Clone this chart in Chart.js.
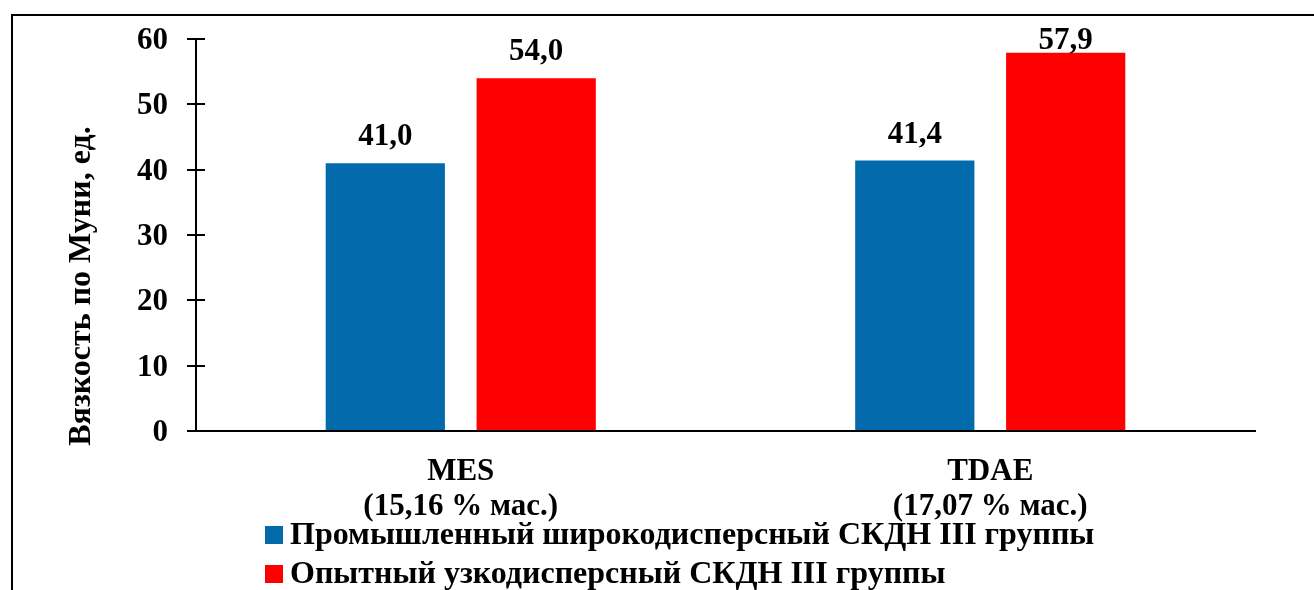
<!DOCTYPE html>
<html>
<head>
<meta charset="utf-8">
<script src="https://cdn.jsdelivr.net/npm/chart.js@4"></script>
<style>
  html, body { margin: 0; padding: 0; background: #fff; overflow: hidden; }
  #wrap { position: relative; width: 1314px; height: 590px; }
  #frame { position: absolute; left: 11px; top: 14px; width: 1400px; height: 700px;
           border-left: 2px solid #000; border-top: 2px solid #000; pointer-events: none; }
  canvas { position: absolute; left: 0; top: 0; }
</style>
</head>
<body>
<div id="wrap">
  <canvas id="chart" width="1314" height="590"></canvas>
  <div id="frame"></div>
</div>
<script>
// Plasticizer types with their content
const categories = [
  ['MES', '(15,16 % мас.)'],
  ['TDAE', '(17,07 % мас.)']
];
const seriesNames = [
  'Промышленный широкодисперсный СКДН III группы',
  'Опытный узкодисперсный СКДН III группы'
];
const industrialValues = [41.0, 41.4];
const experimentalValues = [54.0, 57.9];
const yTicks = [0, 10, 20, 30, 40, 50, 60];
const yTitle = 'Вязкость по Муни, ед.';

const FONT = "'Liberation Serif', 'Times New Roman', serif";
const LABEL_FONT = 'bold 31px ' + FONT;
const BIG_FONT = 'bold 32px ' + FONT;

// Crossing tick marks on the value axis (inner half)
const innerTicks = {
  id: 'innerTicks',
  afterDraw(chart) {
    const y = chart.scales.y, ctx = chart.ctx, left = chart.chartArea.left;
    ctx.save();
    ctx.strokeStyle = '#000';
    ctx.lineWidth = 2;
    y.ticks.forEach(t => {
      const py = Math.round(y.getPixelForValue(t.value));
      ctx.beginPath();
      ctx.moveTo(left, py);
      ctx.lineTo(left + 9, py);
      ctx.stroke();
    });
    ctx.restore();
  }
};

// Value labels above every bar
const barLabels = {
  id: 'barLabels',
  afterDatasetsDraw(chart) {
    const ctx = chart.ctx;
    ctx.save();
    ctx.font = LABEL_FONT;
    ctx.fillStyle = '#000';
    ctx.textAlign = 'center';
    ctx.textBaseline = 'alphabetic';
    chart.data.datasets.forEach((ds, di) => {
      chart.getDatasetMeta(di).data.forEach((bar, i) => {
        const text = ds.data[i].toFixed(1).replace('.', ',');
        const base = Math.max(bar.y - 18, chart.chartArea.top + 10);
        ctx.fillText(text, bar.x, base);
      });
    });
    ctx.restore();
  }
};

// Rotated value-axis title and stacked legend
const extras = {
  id: 'extras',
  afterDraw(chart) {
    const ctx = chart.ctx;
    ctx.save();
    ctx.font = BIG_FONT;
    ctx.fillStyle = '#000';
    ctx.translate(82, 286);
    ctx.rotate(-Math.PI / 2);
    ctx.textAlign = 'center';
    ctx.textBaseline = 'middle';
    ctx.fillText(yTitle, 0, 0);
    ctx.restore();

    ctx.save();
    ctx.font = BIG_FONT;
    ctx.textBaseline = 'middle';
    ctx.textAlign = 'left';
    chart.data.datasets.forEach((ds, i) => {
      const cy = 535 + i * 39;
      ctx.fillStyle = ds.backgroundColor;
      ctx.fillRect(265, cy - 9, 18, 18);
      ctx.fillStyle = '#000';
      ctx.fillText(ds.label, 290, cy + 1);
    });
    ctx.restore();
  }
};

new Chart(document.getElementById('chart'), {
  type: 'bar',
  data: {
    labels: categories,
    datasets: [
      { label: seriesNames[0], data: industrialValues, backgroundColor: '#036AAC' },
      { label: seriesNames[1], data: experimentalValues, backgroundColor: '#FF0000' }
    ]
  },
  options: {
    responsive: false,
    animation: false,
    devicePixelRatio: 1,
    layout: { padding: { top: 39, right: 59, left: 0, bottom: 0 } },
    categoryPercentage: 0.57,
    barPercentage: 0.79,
    plugins: {
      legend: { display: false },
      tooltip: { enabled: false }
    },
    scales: {
      x: {
        afterFit(s) { s.height = 159; },
        grid: { display: false },
        border: { display: true, color: '#000', width: 2 },
        ticks: { color: '#000', font: { family: FONT, size: 31, weight: 'bold', lineHeight: 1.13 }, padding: 15, maxRotation: 0 }
      },
      y: {
        min: 0,
        max: 60,
        afterFit(s) { s.width = 196; },
        afterBuildTicks(s) { s.ticks = yTicks.map(v => ({ value: v })); },
        grid: { drawOnChartArea: false, drawTicks: true, tickLength: 9, color: '#000', lineWidth: 2 },
        border: { display: true, color: '#000', width: 2 },
        ticks: { color: '#000', font: { family: FONT, size: 31, weight: 'bold' }, padding: 19, labelOffset: 2 }
      }
    }
  },
  plugins: [innerTicks, barLabels, extras]
});
</script>
</body>
</html>
